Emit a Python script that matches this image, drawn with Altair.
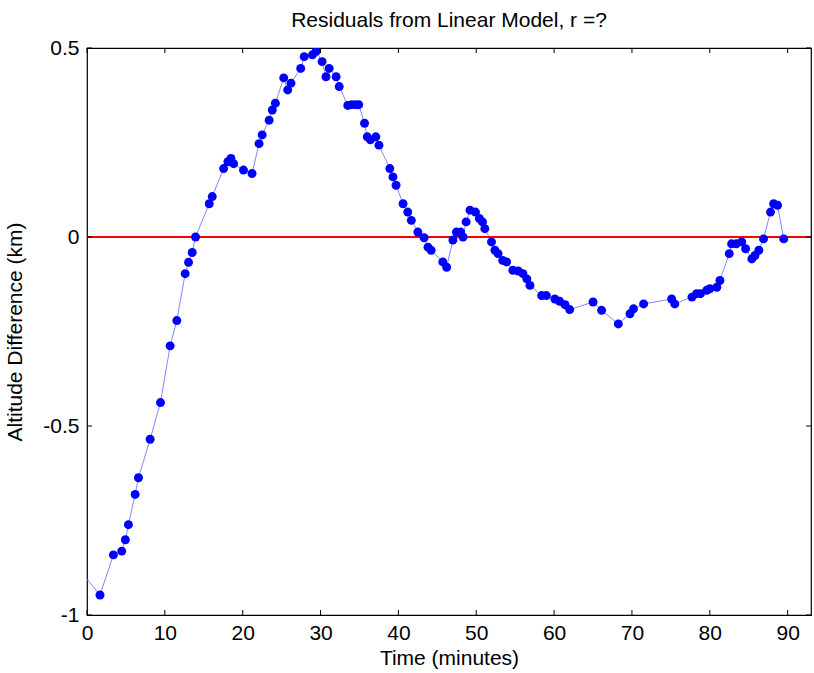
import altair as alt
import pandas as pd

# Time (minutes) and residual altitude difference (km)
time_min = [-1.0, 1.67, 3.39, 4.46, 4.93, 5.32, 6.18, 6.61, 8.11, 9.44, 10.68, 11.54,
            12.61, 13.04, 13.51, 13.94, 15.70, 16.09, 17.55, 18.10, 18.49, 18.83,
            20.10, 21.20, 22.10, 22.50, 23.40, 23.80, 24.20, 25.27, 25.78, 26.20,
            27.45, 27.90, 28.96, 29.43, 30.20, 30.70, 31.10, 32.00, 32.40, 33.50,
            34.00, 34.50, 34.90, 35.65, 36.00, 36.40, 37.10, 37.50, 38.90, 39.30,
            39.70, 40.60, 41.20, 41.66, 42.50, 43.30, 43.80, 44.20, 45.70, 46.20,
            47.00, 47.45, 48.00, 48.30, 48.70, 49.20, 49.90, 50.40, 50.80, 51.10,
            51.96, 52.40, 52.80, 53.40, 53.90, 54.70, 55.40, 56.00, 56.50, 56.90,
            58.40, 59.00, 60.10, 60.70, 61.40, 62.00, 65.00, 66.10, 68.25, 69.75,
            70.20, 71.50, 75.10, 75.50, 77.70, 78.30, 78.80, 79.60, 80.00, 80.90,
            81.30, 82.50, 82.80, 83.40, 84.10, 84.60, 85.40, 85.80, 86.30, 86.90,
            87.80, 88.20, 88.70, 89.50]
residual_km = [-0.880, -0.947, -0.841, -0.831, -0.801, -0.761, -0.681, -0.637, -0.535,
               -0.438, -0.288, -0.221, -0.097, -0.067, -0.041, 0.000, 0.088, 0.107,
               0.181, 0.199, 0.208, 0.194, 0.177, 0.168, 0.247, 0.270, 0.309, 0.336,
               0.354, 0.421, 0.389, 0.407, 0.446, 0.477, 0.482, 0.491, 0.464, 0.424,
               0.446, 0.424, 0.398, 0.348, 0.350, 0.350, 0.350, 0.301, 0.265, 0.257,
               0.265, 0.243, 0.181, 0.159, 0.137, 0.088, 0.066, 0.044, 0.013, -0.002,
               -0.027, -0.035, -0.066, -0.080, -0.008, 0.013, 0.013, 0.000, 0.040,
               0.071, 0.066, 0.049, 0.040, 0.022, -0.013, -0.035, -0.044, -0.062,
               -0.066, -0.088, -0.090, -0.097, -0.111, -0.128, -0.155, -0.155, -0.164,
               -0.170, -0.179, -0.192, -0.172, -0.194, -0.230, -0.203, -0.190, -0.177,
               -0.164, -0.177, -0.159, -0.150, -0.150, -0.141, -0.137, -0.133, -0.115,
               -0.044, -0.018, -0.018, -0.013, -0.031, -0.058, -0.049, -0.035, -0.005,
               0.066, 0.088, 0.084, -0.005]

x_ticks = [0, 10, 20, 30, 40, 50, 60, 70, 80, 90]
y_ticks = [-1, -0.5, 0, 0.5]
zero_line = [0]

W, H = 724, 567
FONT = "Liberation Sans"

df = pd.DataFrame({"t": time_min, "r": residual_km})
xt = pd.DataFrame({"t": x_ticks})
yt = pd.DataFrame({"r": y_ticks})
zl = pd.DataFrame({"r": zero_line})

xs = alt.Scale(domain=[0, 93.0], nice=False, zero=False)
ys = alt.Scale(domain=[-1, 0.5], nice=False, zero=False)

x_axis = alt.Axis(values=x_ticks, tickSize=0, domain=False, grid=False,
                  labelPadding=7, labelFontSize=21, labelFont=FONT, labelFlush=False,
                  labelColor="black", titleFont=FONT, titleFontSize=21,
                  titleFontWeight="normal", titleColor="black",
                  titlePadding=4, labelExpr="'' + datum.value")
y_axis = alt.Axis(values=y_ticks, tickSize=0, domain=False, grid=False,
                  labelPadding=8, labelFontSize=21, labelFont=FONT, labelFlush=False,
                  labelColor="black", titleFont=FONT, titleFontSize=21,
                  titleFontWeight="normal", titleColor="black",
                  titlePadding=17, labelExpr="'' + datum.value")


def X():
    return alt.X("t:Q", scale=xs, title="Time (minutes)", axis=x_axis)


def Y():
    return alt.Y("r:Q", scale=ys, title="Altitude Difference (km)", axis=y_axis)


line = alt.Chart(df).mark_line(color="#7777ff", strokeWidth=0.9, clip=True).encode(
    x=X(), y=Y())
pts = alt.Chart(df).mark_point(filled=True, color="#0000ff", opacity=1, size=80,
                               shape="circle", clip=True).encode(x=X(), y=Y())
red = alt.Chart(zl).mark_rule(color="#ff0000", strokeWidth=2).encode(y=Y())

xb = alt.Chart(xt).mark_rule(color="black", strokeWidth=1).encode(
    x=X(), y=alt.value(H), y2=alt.value(H - 5))
xtop = alt.Chart(xt).mark_rule(color="black", strokeWidth=1).encode(
    x=X(), y=alt.value(0), y2=alt.value(5))
yl = alt.Chart(yt).mark_rule(color="black", strokeWidth=1).encode(
    y=Y(), x=alt.value(0), x2=alt.value(5))
yr = alt.Chart(yt).mark_rule(color="black", strokeWidth=1).encode(
    y=Y(), x=alt.value(W - 5), x2=alt.value(W))

chart = alt.layer(line, red, pts, xb, xtop, yl, yr).properties(
    width=W, height=H,
    background="white",
    title=alt.TitleParams("Residuals from Linear Model, r =?", font=FONT, fontSize=21,
                          fontWeight="normal", color="black", anchor="middle",
                          offset=6),
    autosize=alt.AutoSizeParams(type="none"),
    padding={"left": 87, "top": 48, "right": 3, "bottom": 58},
).configure_view(stroke="black", strokeWidth=1.2)

chart.save("out.html", embed_options={"renderer": "svg", "actions": False})
